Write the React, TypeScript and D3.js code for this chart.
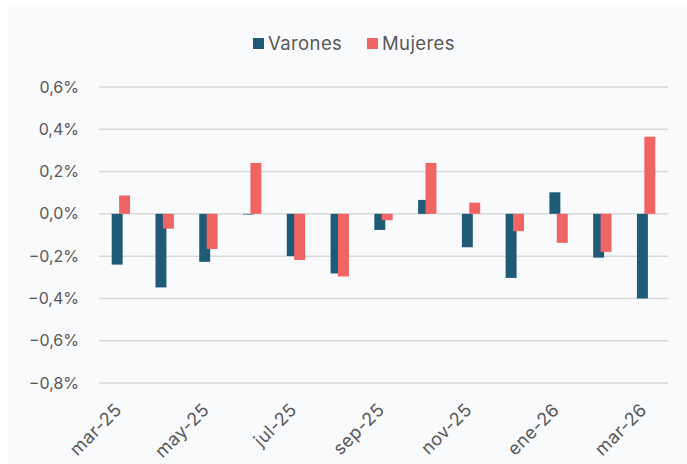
import React, { useEffect, useRef } from 'react';
import * as d3 from 'd3';

const months = ['mar-25', 'abr-25', 'may-25', 'jun-25', 'jul-25', 'ago-25', 'sep-25', 'oct-25', 'nov-25', 'dic-25', 'ene-26', 'feb-26', 'mar-26'];
const varones = [-0.24, -0.348, -0.227, -0.003, -0.2, -0.282, -0.076, 0.066, -0.158, -0.303, 0.102, -0.207, -0.4];
const mujeres = [0.087, -0.07, -0.166, 0.241, -0.218, -0.296, -0.03, 0.241, 0.053, -0.082, -0.137, -0.18, 0.365];
const yTicks = [-0.8, -0.6, -0.4, -0.2, 0, 0.2, 0.4, 0.6];
const labelMonths = ['mar-25', 'may-25', 'jul-25', 'sep-25', 'nov-25', 'ene-26', 'mar-26'];

const series = [
  { name: 'Varones', values: varones, color: '#1F5A77' },
  { name: 'Mujeres', values: mujeres, color: '#F06464' },
];

const W = 687;
const H = 464;
const FONT = 'Inter, "Open Sans", sans-serif';

const App = () => {
  const ref = useRef<SVGSVGElement>(null);

  useEffect(() => {
    const svg = d3.select(ref.current);
    svg.selectAll('*').remove();

    svg.append('rect').attr('width', W).attr('height', H).attr('fill', '#FFFFFF');
    svg.append('rect').attr('x', 8).attr('y', 7).attr('width', W - 8).attr('height', H - 7).attr('fill', '#F9FAFC');

    const x = d3.scaleBand().domain(months).range([99, 668]);
    const y = d3.scaleLinear().domain([-0.8, 0.6]).range([383, 87]);

    // gridlines
    svg.append('g')
      .selectAll('line')
      .data(yTicks)
      .join('line')
      .attr('x1', 99)
      .attr('x2', 668)
      .attr('y1', d => y(d))
      .attr('y2', d => y(d))
      .attr('stroke', '#D9D9D9')
      .attr('stroke-width', 1.5);

    // y labels
    svg.append('g')
      .selectAll('text')
      .data(yTicks)
      .join('text')
      .attr('x', 79)
      .attr('y', d => y(d))
      .attr('dy', '0.35em')
      .attr('text-anchor', 'end')
      .attr('fill', '#595959')
      .style('font-family', FONT)
      .style('font-size', '16px')
      .text(d => (d < 0 ? '\u2212' : '') + d3.format('.1f')(Math.abs(d)).replace('.', ',') + '%');

    // bars (Mujeres drawn on top)
    const bw = x.bandwidth() * 0.25;
    const offsets = [-3.7, 3.7];
    series.forEach((s, si) => {
      svg.append('g')
        .selectAll('rect')
        .data(s.values)
        .join('rect')
        .attr('x', (d, i) => (x(months[i]) as number) + x.bandwidth() / 2 + offsets[si] - bw / 2)
        .attr('y', d => y(Math.max(0, d)))
        .attr('width', bw)
        .attr('height', d => Math.max(0.5, Math.abs(y(d) - y(0))))
        .attr('fill', s.color);
    });

    // x labels
    svg.append('g')
      .selectAll('text')
      .data(labelMonths)
      .join('text')
      .attr('transform', d => `translate(${(x(d) as number) + x.bandwidth() / 2 + 2},${411}) rotate(-45)`)
      .attr('text-anchor', 'end')
      .attr('fill', '#595959')
      .style('font-family', FONT)
      .style('font-size', '18px')
      .style('letter-spacing', '0.5px')
      .text(d => d);

    // legend
    const legend = svg.append('g');
    const lx = [253, 367];
    series.forEach((s, i) => {
      legend.append('rect')
        .attr('x', lx[i])
        .attr('y', 38)
        .attr('width', 11)
        .attr('height', 11)
        .attr('fill', s.color);
      legend.append('text')
        .attr('x', lx[i] + 15)
        .attr('y', 43.5)
        .attr('dy', '0.35em')
        .attr('fill', '#595959')
        .style('font-family', FONT)
        .style('font-size', '18.5px')
        .style('letter-spacing', '0.4px')
        .text(s.name);
    });
  }, []);

  return (
    <svg
      ref={ref}
      width={W}
      height={H}
      style={{ position: 'absolute', left: 0, top: 0 }}
    />
  );
};

export default App;
